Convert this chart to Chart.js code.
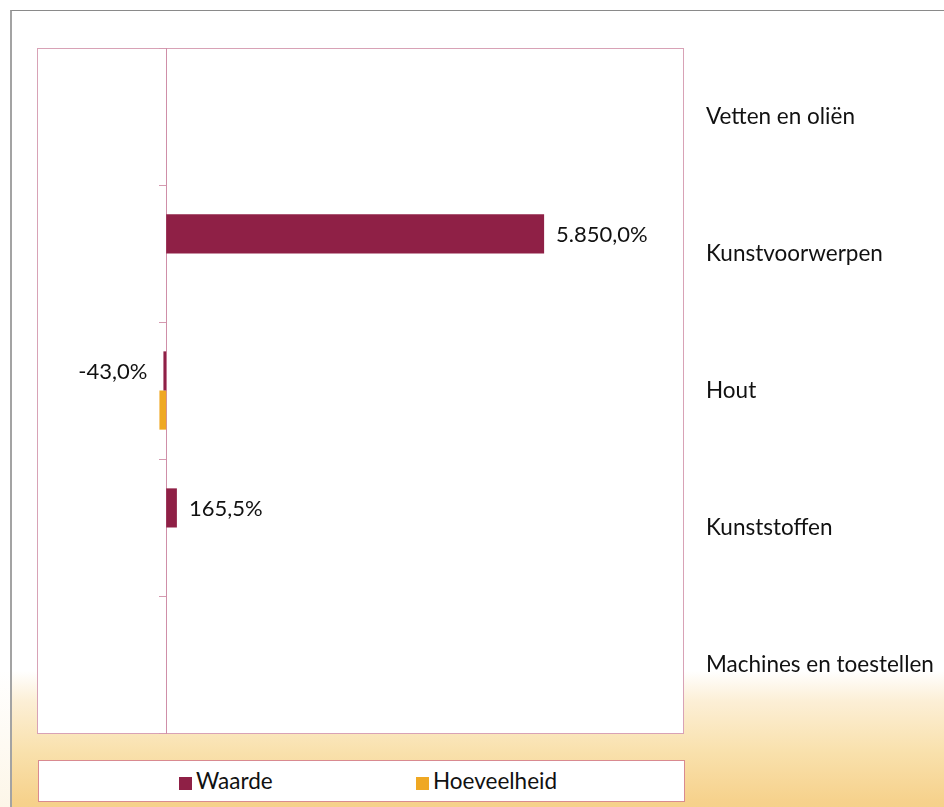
<!DOCTYPE html>
<html>
<head>
<meta charset="utf-8">
<script src="https://cdn.jsdelivr.net/npm/chart.js@4.4.1/dist/chart.umd.min.js"></script>
<style>
  html, body { margin: 0; padding: 0; width: 944px; height: 807px; overflow: hidden;
    background: linear-gradient(to bottom, #ffffff 0px, #ffffff 670px, #fdf6e8 807px); }
  #frame { position: absolute; left: 10px; top: 10px; width: 1000px; height: 900px;
    border-left: 2px solid #a3a3a3; border-top: 1px solid #8a8a8a; box-sizing: border-box;
    background: linear-gradient(to bottom, #ffffff 0px, #ffffff 660px, #fcefd6 690px, #f9e1ad 740px, #f6d18b 792px, #f5cd84 900px); }
  #c { position: absolute; left: 0; top: 0; }
  #legend { position: absolute; left: 38px; top: 760px; width: 647px; height: 42px; box-sizing: border-box;
    border: 1px solid #d98a90; background: #fff; font-family: Lato, sans-serif; font-size: 22.5px; color: #111; }
  .item { position: absolute; top: 0; height: 40px; line-height: 40px; white-space: nowrap; }
  .sw { display: inline-block; width: 13px; height: 13px; margin-right: 4px; vertical-align: -1px; }
</style>
</head>
<body>
<div id="frame"></div>
<canvas id="c" width="944" height="807"></canvas>
<div id="legend">
  <div class="item" style="left:140px"><span class="sw" style="background:#8f2046"></span><span id="lg0"></span></div>
  <div class="item" style="left:377px"><span class="sw" style="background:#efa823"></span><span id="lg1"></span></div>
</div>
<script>
const categories = ['Vetten en oliën', 'Kunstvoorwerpen', 'Hout', 'Kunststoffen', 'Machines en toestellen'];
const seriesNames = ['Waarde', 'Hoeveelheid'];
const waarde = [null, 5850.0, -43.0, 165.5, null];
const hoeveelheid = [null, null, -105, null, null];
const axisMin = -2000;
const axisMax = 8000;

const colors = ['#8f2046', '#efa823'];
const fontFamily = 'Lato, sans-serif';

document.getElementById('lg0').textContent = seriesNames[0];
document.getElementById('lg1').textContent = seriesNames[1];

function fmtNL(v) {
  const s = Math.abs(v).toFixed(1);
  const parts = s.split('.');
  const intPart = parts[0].replace(/\B(?=(\d{3})+(?!\d))/g, '.');
  return (v < 0 ? '-' : '') + intPart + ',' + parts[1] + '%';
}

const plotAreaPlugin = {
  id: 'plotArea',
  beforeDraw(chart) {
    const a = chart.chartArea;
    const ctx = chart.ctx;
    ctx.save();
    ctx.fillStyle = '#ffffff';
    ctx.fillRect(a.left, a.top, a.right - a.left, a.bottom - a.top);
    ctx.strokeStyle = '#d8a2b6';
    ctx.lineWidth = 1;
    ctx.strokeRect(a.left + 0.5, a.top + 0.5, a.right - a.left, a.bottom - a.top);
    ctx.restore();
  }
};

const labelPlugin = {
  id: 'valueLabels',
  afterDatasetsDraw(chart) {
    const ctx = chart.ctx;
    const meta = chart.getDatasetMeta(0);
    const data = chart.data.datasets[0].data;
    ctx.save();
    ctx.font = '22px ' + fontFamily;
    ctx.fillStyle = '#111';
    ctx.textBaseline = 'middle';
    meta.data.forEach((bar, i) => {
      const v = data[i];
      if (v === null || v === undefined) return;
      const txt = fmtNL(v);
      if (v >= 0) {
        ctx.textAlign = 'left';
        ctx.fillText(txt, bar.x + 12, bar.y + 1);
      } else {
        ctx.textAlign = 'right';
        ctx.fillText(txt, bar.x - 16, bar.y + 1);
      }
    });
    ctx.restore();
  }
};

new Chart(document.getElementById('c'), {
  type: 'bar',
  data: {
    labels: categories,
    datasets: [
      { label: seriesNames[0], data: waarde, backgroundColor: colors[0], yAxisID: 'y' },
      { label: seriesNames[1], data: hoeveelheid, backgroundColor: colors[1], yAxisID: 'y' }
    ]
  },
  options: {
    indexAxis: 'y',
    responsive: false,
    animation: false,
    devicePixelRatio: 1,
    categoryPercentage: 1 / 1.75,
    barPercentage: 1,
    layout: { padding: { left: 37, top: 48, bottom: 74, right: 0 } },
    plugins: { legend: { display: false }, tooltip: { enabled: false } },
    scales: {
      x: { type: 'linear', display: false, min: axisMin, max: axisMax },
      y: {
        type: 'category',
        position: 'right',
        offset: true,
        grid: { display: false, drawTicks: false },
        border: { display: false },
        ticks: { crossAlign: 'near', padding: 23, color: '#111', font: { family: fontFamily, size: 22.5 } },
        afterFit(scale) { scale.width = 261; }
      },
      y2: {
        type: 'category',
        axis: 'y',
        labels: categories,
        position: { x: 0 },
        offset: true,
        grid: { offset: true, drawOnChartArea: false, drawTicks: true, tickLength: 7, color: '#d59ab0', lineWidth: 1 },
        border: { display: true, color: '#cf8fa8', width: 1 },
        ticks: { display: false }
      }
    }
  },
  plugins: [plotAreaPlugin, labelPlugin]
});
</script>
</body>
</html>
